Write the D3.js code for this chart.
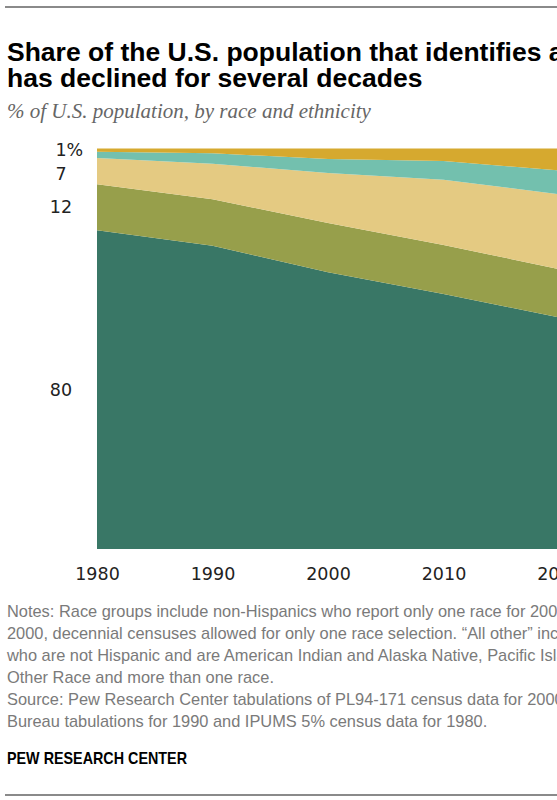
<!DOCTYPE html>
<html lang="en">
<head>
<meta charset="utf-8">
<title>Share of the U.S. population by race and ethnicity</title>
<script src="https://d3js.org/d3.v7.min.js"></script>
<style>
  body { margin: 0; background: #fff; }
  svg { display: block; }
  .title { font-family: "Liberation Sans", Arial, sans-serif; font-weight: bold; font-size: 26.5px; fill: #000; }
  .subtitle { font-family: "Liberation Serif", serif; font-style: italic; font-size: 21px; fill: #666; }
  .tick-label { font-family: "DejaVu Sans", sans-serif; font-size: 17.5px; fill: #222; }
  .note { font-family: "Liberation Sans", sans-serif; font-size: 16.4px; fill: #7a7a7a; }
  .brand { font-family: "Liberation Sans", sans-serif; font-weight: bold; font-size: 17px; fill: #000; }
</style>
</head>
<body>
<div id="vis"></div>
<script>
const width = 557;
const height = 800;

// census years
const years = [1980, 1990, 2000, 2010, 2020];

// % of population, stacked bottom to top
const white    = [79.6, 75.7, 69.1, 63.7, 57.8];
const black    = [11.5, 11.6, 12.3, 12.2, 12.1];
const hispanic = [6.5, 8.9, 12.5, 16.3, 18.7];
const asian    = [1.6, 2.6, 3.5, 4.7, 5.9];
const other    = [0.8, 1.2, 2.6, 3.1, 5.5];

const groups = ["White", "Black", "Hispanic", "Asian", "All other"];
const colors = ["#397766", "#979f4b", "#e4ca82", "#73c0ae", "#d6a92f"];

// left-side labels for 1980 (Asian not labelled)
const startLabels = ["80", "12", "7", "", "1%"];

const xTicks = [1980, 1990, 2000, 2010, 2020];

const noteLines = [
  "Notes: Race groups include non-Hispanics who report only one race for 2000, 2010 and 2020. Prior to",
  "2000, decennial censuses allowed for only one race selection. \u201CAll other\u201D includes people",
  "who are not Hispanic and are American Indian and Alaska Native, Pacific Islander, Some",
  "Other Race and more than one race.",
  "Source: Pew Research Center tabulations of PL94-171 census data for 2000, 2010 and 2020, Census",
  "Bureau tabulations for 1990 and IPUMS 5% census data for 1980."
];

const series = [white, black, hispanic, asian, other];
const table = years.map((y, i) => {
  const row = { year: y };
  groups.forEach((g, j) => row[g] = series[j][i]);
  return row;
});

const x = d3.scaleLinear().domain([1980, 2020]).range([97, 559]);
const y = d3.scaleLinear().domain([0, 100]).range([549, 148.5]);

const svg = d3.select("#vis").append("svg")
  .attr("width", width)
  .attr("height", height);

// top and bottom rules
svg.append("line").attr("x1", 5).attr("x2", width).attr("y1", 7).attr("y2", 7)
  .attr("stroke", "#8a8a8a").attr("stroke-width", 2);
svg.append("line").attr("x1", 5).attr("x2", width).attr("y1", 795).attr("y2", 795)
  .attr("stroke", "#8a8a8a").attr("stroke-width", 2);

svg.append("text").attr("class", "title").attr("x", 7).attr("y", 61)
  .text("Share of the U.S. population that identifies as White");
svg.append("text").attr("class", "title").attr("x", 7).attr("y", 87)
  .text("has declined for several decades");
svg.append("text").attr("class", "subtitle").attr("x", 7).attr("y", 118)
  .text("% of U.S. population, by race and ethnicity");

const stack = d3.stack().keys(groups);
const layers = stack(table);

const area = d3.area()
  .x(d => x(d.data.year))
  .y0(d => y(d[0]))
  .y1(d => y(d[1]));

svg.append("g").selectAll("path")
  .data(layers)
  .join("path")
  .attr("d", area)
  .attr("fill", (d, i) => colors[i]);

// start labels at layer middles, walked top-down so they keep apart
const labelX = 61;
let prev = -Infinity;
for (let i = layers.length - 1; i >= 0; i--) {
  if (!startLabels[i]) continue;
  const first = layers[i][0];
  let ly = Math.max(y((first[0] + first[1]) / 2), prev + 24);
  prev = ly;
  const txt = startLabels[i].replace("%", "");
  const t = svg.append("text").attr("class", "tick-label")
    .attr("x", labelX).attr("y", ly)
    .attr("dy", "0.36em")
    .attr("text-anchor", "middle")
    .text(txt);
  if (startLabels[i].includes("%")) {
    const w = t.node().getComputedTextLength();
    svg.append("text").attr("class", "tick-label")
      .attr("x", labelX + w / 2).attr("y", ly)
      .attr("dy", "0.36em")
      .text("%");
  }
}

// x axis
const xAxis = d3.axisBottom(x).tickValues(xTicks).tickFormat(d3.format("d")).tickSize(0).tickPadding(0);
const gx = svg.append("g").attr("transform", "translate(0,567)").call(xAxis);
gx.select(".domain").remove();
gx.selectAll("text").attr("class", "tick-label").attr("dy", "0.74em").attr("fill", null);

// notes
svg.append("g").selectAll("text")
  .data(noteLines)
  .join("text")
  .attr("class", "note")
  .attr("x", 7)
  .attr("y", (d, i) => 617 + i * 22)
  .text(d => d);

svg.append("text").attr("class", "brand").attr("x", 7).attr("y", 764)
  .attr("textLength", 180).attr("lengthAdjust", "spacingAndGlyphs")
  .text("PEW RESEARCH CENTER");
</script>
</body>
</html>
